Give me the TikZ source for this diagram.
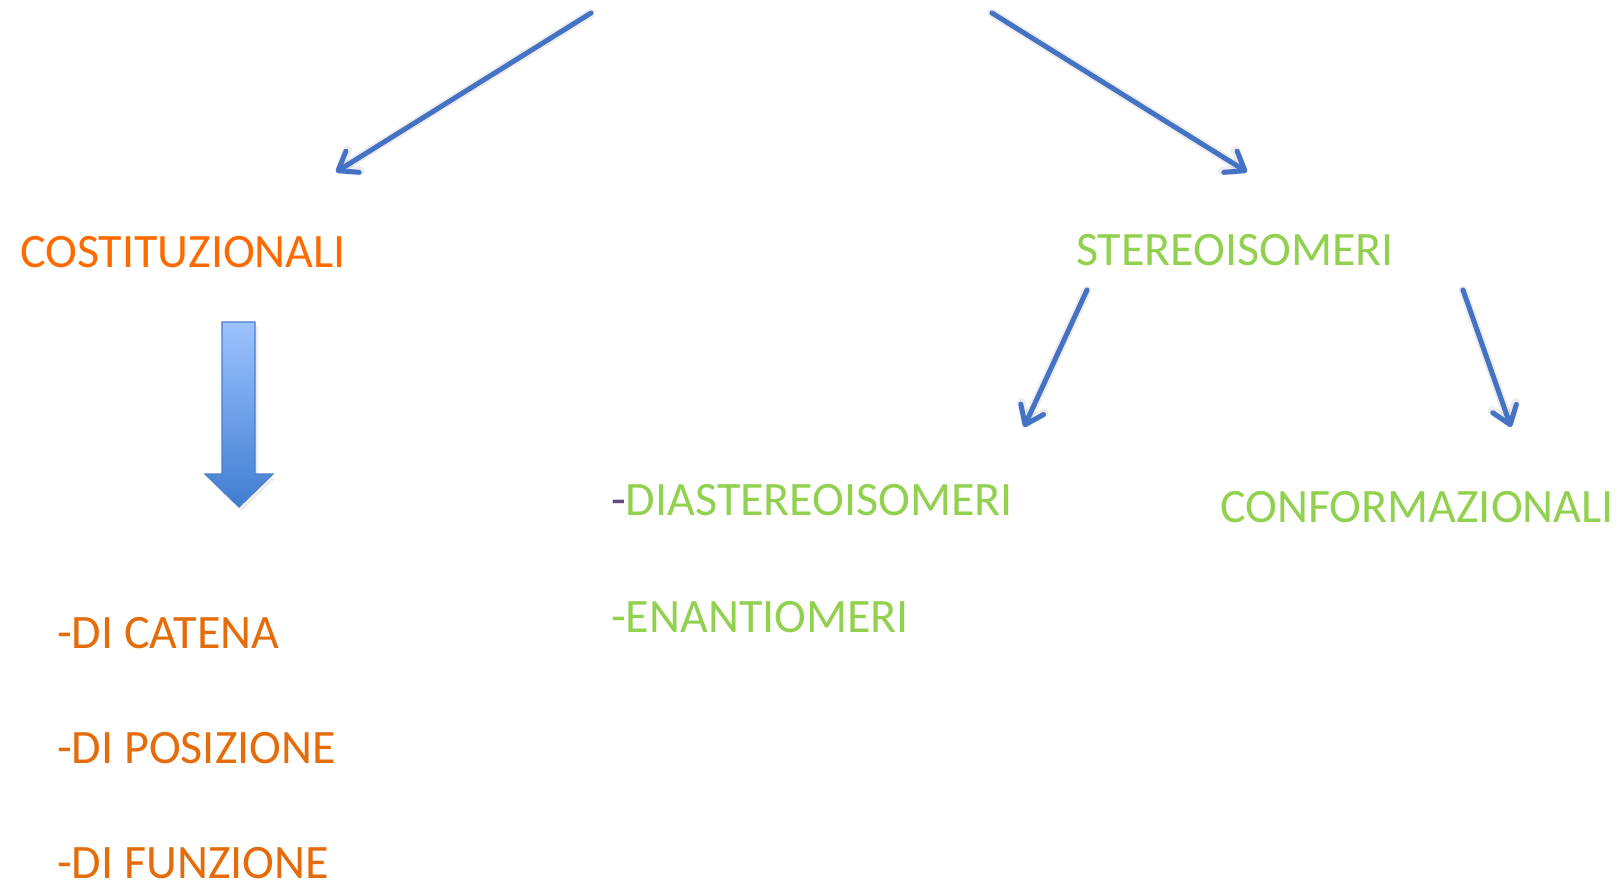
\documentclass[tikz,border=0pt]{standalone}
\usepackage{fontspec}
\setmainfont{Carlito}
\usetikzlibrary{arrows.meta}

\definecolor{arrowblue}{HTML}{4472C4}
\definecolor{brightorange}{HTML}{FF6A00}
\definecolor{darkorange}{HTML}{E46C0A}
\definecolor{leafgreen}{HTML}{92D050}
\definecolor{dashpurple}{HTML}{604A7B}
\definecolor{blocktop}{HTML}{9DC3FF}
\definecolor{blockbottom}{HTML}{3F7DD0}
\definecolor{blockedge}{HTML}{4A7EC8}

\tikzset{
  label/.style={anchor=base west, inner sep=0pt, text depth=0pt,
    font=\fontsize{48}{56}\selectfont},
  linkarrow/.style={draw=arrowblue, line width=5pt, line cap=round, line join=round,
    -{Straight Barb[length=17pt,width=25pt,round]}},
  linkshadow/.style={draw=black, opacity=0.07, line width=9pt, line cap=round, line join=round,
    -{Straight Barb[length=17pt,width=25pt,round]}, shift={(3pt,-4pt)}},
}

\begin{document}
\begin{tikzpicture}[x=1pt,y=-1pt]
  \useasboundingbox (0,0) rectangle (1620,886);

  % category labels
  \node[label, text=brightorange] (cost) at (20,267) {COSTITUZIONALI};
  \node[label, text=leafgreen] (stereo) at (1076,265) {STEREOISOMERI};
  \node[label, text=leafgreen] (conf) at (1220,522) {CONFORMAZIONALI};
  \node[label, text=leafgreen] (dia) at (611,515) {\textcolor{dashpurple}{-}DIASTEREOISOMERI};
  \node[label, text=leafgreen] (enan) at (611,632) {-ENANTIOMERI};
  \node[label, text=darkorange] (catena) at (57,648) {-DI CATENA};
  \node[label, text=darkorange] (posiz) at (57,763) {-DI POSIZIONE};
  \node[label, text=darkorange] (funz) at (57,878) {-DI FUNZIONE};

  % arrow end points
  \coordinate (a1s) at (591,13);
  \coordinate (a1e) at (336,172);
  \coordinate (a2s) at (992,13);
  \coordinate (a2e) at (1247,172);
  \coordinate (a3s) at (1087,290);
  \coordinate (a3e) at (1024,427);
  \coordinate (a4s) at (1463,290);
  \coordinate (a4e) at (1511,427);

  % soft shadows under the connectors
  \foreach \s/\e in {a1s/a1e, a2s/a2e, a3s/a3e, a4s/a4e}
    \path[linkshadow] (\s) -- (\e);

  % connectors
  \draw[linkarrow] (a1s) -- (a1e);
  \draw[linkarrow] (a2s) -- (a2e);
  \draw[linkarrow] (a3s) -- (a3e);
  \draw[linkarrow] (a4s) -- (a4e);

  % block arrow under COSTITUZIONALI
  \fill[black, opacity=0.07, shift={(3pt,-4pt)}]
    (222,322) -- (255,322) -- (255,474) -- (273,474) -- (239,507)
    -- (205,474) -- (222,474) -- cycle;
  \shade[top color=blocktop, bottom color=blockbottom, draw=blockedge, line width=1.2pt]
    (222,322) -- (255,322) -- (255,474) -- (273,474) -- (239,507)
    -- (205,474) -- (222,474) -- cycle;
\end{tikzpicture}
\end{document}
